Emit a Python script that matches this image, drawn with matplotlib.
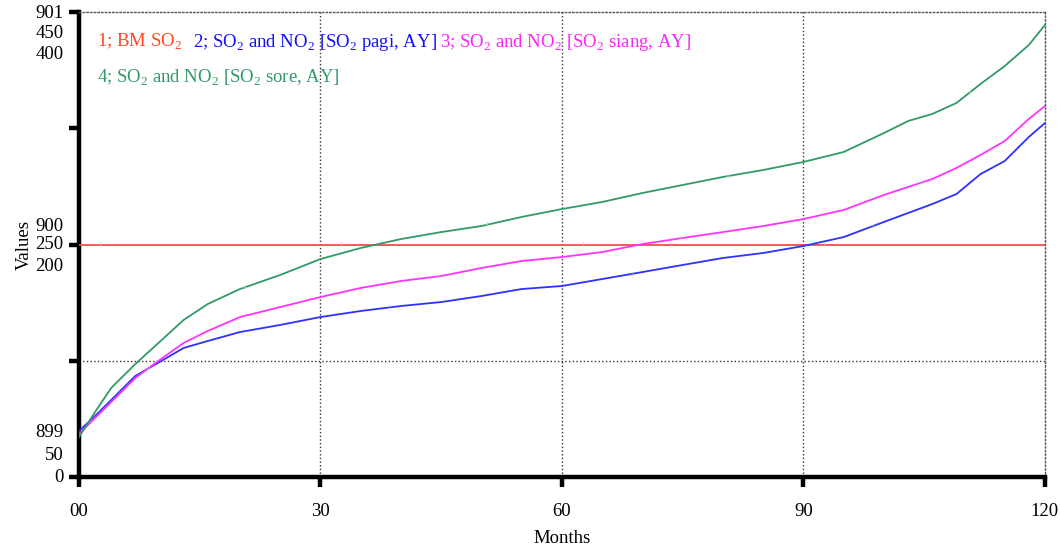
# Simulasi SO2 dan NO2 - grafik gaya Vensim

import matplotlib.pyplot as plt
from matplotlib.transforms import blended_transform_factory

plt.rcParams['font.family'] = ['Liberation Serif', 'DejaVu Serif']
plt.rcParams['mathtext.fontset'] = 'custom'
plt.rcParams['mathtext.rm'] = 'Liberation Serif'

# Data
months = [0, 2, 4, 7, 10, 13, 16, 20, 25, 30, 35, 40, 45, 50, 55, 60,
          65, 70, 75, 80, 85, 90, 95, 100, 103, 106, 109, 112, 115, 118, 120]
bm_so2 = [250] * len(months)
so2_pagi = [89.6, 102.5, 116.2, 136.9, 148.9, 161.0, 167.0, 174.7, 180.8, 187.6,
            192.8, 197.1, 200.5, 205.7, 211.7, 214.3, 220.3, 226.3, 232.4, 238.4,
            242.7, 248.7, 256.4, 269.4, 277.1, 284.8, 293.4, 310.6, 321.8, 342.5, 354.5]
so2_siang = [87.0, 100.8, 114.5, 135.2, 150.6, 165.3, 175.6, 187.6, 196.2, 204.8,
             212.6, 218.6, 222.9, 229.8, 235.8, 239.2, 243.5, 250.4, 255.6, 260.7,
             265.9, 271.9, 279.7, 292.6, 299.5, 306.3, 315.8, 327.0, 339.0, 358.0, 369.1]
so2_sore = [84.4, 105.9, 126.6, 147.2, 166.1, 185.1, 198.8, 211.7, 223.8, 237.5,
            247.0, 254.7, 260.7, 265.9, 273.7, 280.5, 286.6, 294.3, 301.2, 308.1,
            314.1, 321.0, 329.6, 345.9, 356.2, 362.3, 371.7, 388.1, 403.5, 421.6, 438.8]

series = [
    ('1; BM SO$_\\mathrm{2}$', bm_so2, '#ff4a4a', '#ff4422'),
    ('2; SO$_\\mathrm{2}$ and NO$_\\mathrm{2}$ [SO$_\\mathrm{2}$ pagi, AY]', so2_pagi, '#3030ff', '#1010ff'),
    ('3; SO$_\\mathrm{2}$ and NO$_\\mathrm{2}$ [SO$_\\mathrm{2}$ siang, AY]', so2_siang, '#ff33ff', '#ff22ff'),
    ('4; SO$_\\mathrm{2}$ and NO$_\\mathrm{2}$ [SO$_\\mathrm{2}$ sore, AY]', so2_sore, '#339966', '#339966'),
]

x_ticks = [0, 30, 60, 90, 120]
x_tick_labels = ['00', '30', '60', '90', '120']
y_ticks = [50, 150, 250, 350, 450]

# Label sumbu Y bertumpuk (tiga skala)
y_stack = [
    (450, ['901', '450', '400'], [-2, -22, -43]),
    (250, ['900', '250', '200'], [18, 0, -22]),
    (50, ['899', '50', '0'], [45, 22, 0]),
]

FS = 13.5

fig = plt.figure(figsize=(10.6, 5.5), dpi=100)
ax = fig.add_axes([0.0745, 0.1327, 0.9113, 0.8455])

for i, (name, vals, color, _) in enumerate(series):
    ax.plot(months, vals, color=color, linewidth=1.3, zorder=3)
    # nomor garis kecil ala Vensim
    for j in range(4):
        m = 2.6 + 6 * i + 30 * j
        v = None
        for k in range(len(months) - 1):
            if months[k] <= m <= months[k + 1]:
                t = (m - months[k]) / (months[k + 1] - months[k])
                v = vals[k] + t * (vals[k + 1] - vals[k])
        ax.text(m, v, str(i + 1), fontsize=5, color='#a8dcc8',
                ha='center', va='center', zorder=4)

ax.set_xlim(0, 120)
ax.set_ylim(50, 450)

# Grid titik-titik
for xv in [30, 60, 90]:
    ax.axvline(xv, color='#333333', linestyle=':', linewidth=1.0, zorder=1)
ax.axhline(150, color='#333333', linestyle=':', linewidth=1.0, zorder=1)

for side in ['top', 'right']:
    ax.spines[side].set_linestyle(':')
    ax.spines[side].set_linewidth(1.0)
    ax.spines[side].set_color('#555555')
for side in ['left', 'bottom']:
    ax.spines[side].set_linewidth(3.2)
    ax.spines[side].set_color('black')

ax.set_xticks(x_ticks)
ax.set_xticklabels(x_tick_labels, fontsize=FS)
ax.tick_params(axis='x', direction='out', length=7, width=3.2, pad=12)
ax.set_yticks(y_ticks)
ax.set_yticklabels([])
ax.tick_params(axis='y', direction='out', length=7, width=3.2)

trans = blended_transform_factory(ax.transAxes, ax.transData)
for anchor, labels, offsets in y_stack:
    for lab, off in zip(labels, offsets):
        ax.annotate(lab, xy=(0, anchor), xycoords=trans,
                    xytext=(-11, off * 0.72), textcoords='offset points',
                    ha='right', va='center', fontsize=FS)

ax.set_xlabel('Months', fontsize=FS)
ax.xaxis.set_label_coords(0.5, -0.113)
ax.set_ylabel('Values', fontsize=FS)
ax.yaxis.set_label_coords(-0.048, 0.5)

# Legenda teks di atas
legend_pos = [(0.019, 0.935), (0.118, 0.935), (0.374, 0.935), (0.019, 0.858)]
for (name, _, _, tcolor), (lx, ly) in zip(series, legend_pos):
    ax.text(lx, ly, name, transform=ax.transAxes, color=tcolor,
            fontsize=FS, ha='left', va='center', zorder=5)

fig.savefig('out.png', dpi=100)
